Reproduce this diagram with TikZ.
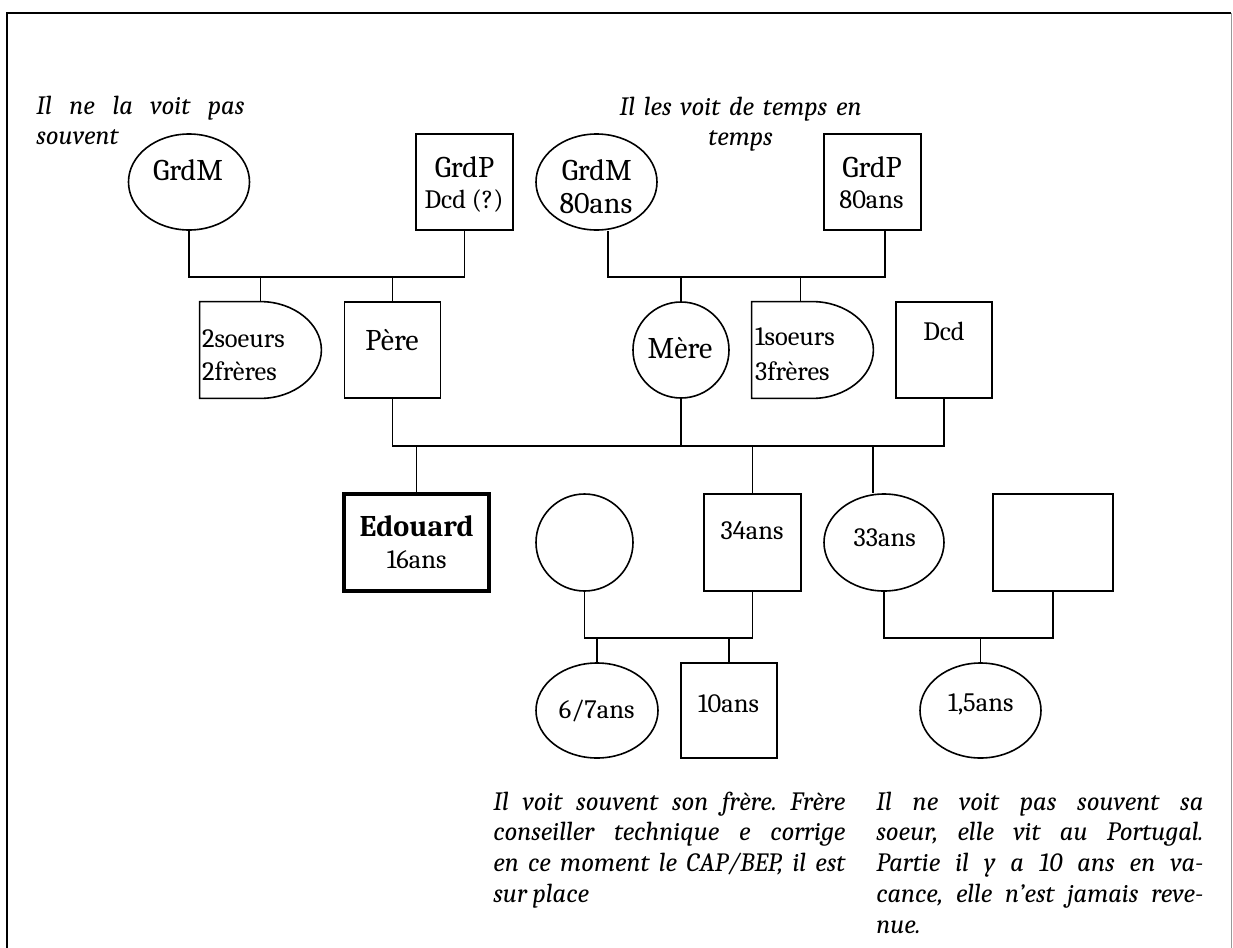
\documentclass[tikz,border=0pt]{standalone}
\usepackage{fontspec}
\IfFontExistsTF{Caladea}{\setmainfont{Caladea}}{\setmainfont{Liberation Serif}}
\usetikzlibrary{shapes.geometric,calc}
\newcommand\szA{\fontsize{15}{18}\selectfont}
\newcommand\szB{\fontsize{13.25}{16}\selectfont}
\newcommand\szC{\fontsize{13.2}{15.4}\selectfont}
\frenchspacing
\begin{document}
\begin{tikzpicture}[x=0.5pt,y=-0.5pt,
  ln/.style={line width=0.8pt},
  sq/.style={draw, ln, rectangle, inner sep=0pt},
  el/.style={draw, ln, ellipse, inner sep=0pt},
  ghost/.style={rectangle, inner sep=0pt},
  lab/.style={inner sep=0pt, anchor=base},
  labw/.style={inner sep=0pt, anchor=base west},
  note/.style={inner sep=0pt, anchor=base west, align=justify, font=\szC\itshape}]
\useasboundingbox (0,0) rectangle (1233,948);
% frame
\draw[line width=1pt] (7,948) -- (7,13) -- (1231,13);
\draw[line width=0.5pt, black!40] (1231,13) -- (1231,948);

% shapes
\node[el, minimum width=60.5pt, minimum height=48pt] (gm1) at (189,182) {};
\node[sq, minimum width=48.5pt, minimum height=48pt] (gp1) at (464.5,182) {};
\node[el, minimum width=60.5pt, minimum height=48pt] (gm2) at (596.5,182) {};
\node[sq, minimum width=48.5pt, minimum height=48pt] (gp2) at (872.5,182) {};
\node[ghost, minimum width=60.5pt, minimum height=48pt] (s1) at (260.5,350) {};
\node[sq, minimum width=48pt, minimum height=48pt] (pere) at (392.5,350) {};
\node[el, minimum width=48pt, minimum height=48pt] (mere) at (681,350) {};
\node[ghost, minimum width=60.5pt, minimum height=48pt] (s2) at (812.5,350) {};
\node[sq, minimum width=48pt, minimum height=48pt] (dcd) at (944,350) {};
\node[sq, line width=1.8pt, minimum width=72.5pt, minimum height=48.5pt] (edo) at (416.5,542.5) {};
\node[el, minimum width=48.5pt, minimum height=48.5pt] (w) at (584.5,542.5) {};
\node[sq, minimum width=48.5pt, minimum height=48.5pt] (b34) at (752.5,542.5) {};
\node[el, minimum width=60pt, minimum height=48.5pt] (s33) at (884,542.5) {};
\node[sq, minimum width=60pt, minimum height=48.5pt] (h) at (1053,542.5) {};
\node[el, minimum width=61pt, minimum height=47.5pt] (c67) at (597,710.5) {};
\node[sq, minimum width=48.25pt, minimum height=47.5pt] (c10) at (729,710.5) {};
\node[el, minimum width=60.5pt, minimum height=47.5pt] (c15) at (980.5,710.5) {};

% D shapes (siblings groups)
\draw[ln] (s1.north west) -- (s1.north) .. controls +(33.1,0) and +(0,-26.5) .. (s1.east)
  .. controls +(0,26.5) and +(33.1,0) .. (s1.south) -- (s1.south west) -- cycle;
\draw[ln] (s2.north west) -- (s2.north) .. controls +(33.1,0) and +(0,-26.5) .. (s2.east)
  .. controls +(0,26.5) and +(33.1,0) .. (s2.south) -- (s2.south west) -- cycle;

% labels
\node[lab, font=\szA] (tgm1) at (188,180) {GrdM};
\node[lab, font=\szA] (tgp1a) at (464.4,177) {GrdP};
\node[lab, font=\szB] (tgp1b) at (464,208) {Dcd (?)};
\node[lab, font=\szA] (tgm2a) at (596.7,180) {GrdM};
\node[lab, font=\szA] (tgm2b) at (596,213) {80ans};
\node[lab, font=\szA] (tgp2a) at (872,177) {GrdP};
\node[lab, font=\szB] (tgp2b) at (871.5,208) {80ans};
\node[labw, font=\szB] (ts1a) at (201.6,347) {2soeurs};
\node[labw, font=\szB] (ts1b) at (201.6,380) {2frères};
\node[lab, font=\szA] (tpere) at (392,350) {Père};
\node[lab, font=\szA] (tmere) at (680,358) {Mère};
\node[labw, font=\szB] (ts2a) at (754.7,345) {1soeurs};
\node[labw, font=\szB] (ts2b) at (754.7,380) {3frères};
\node[lab, font=\szB] (tdcd) at (944,340) {Dcd};
\node[lab, font=\szA\bfseries] (tedoa) at (416.7,536.7) {Edouard};
\node[lab, font=\szB] (tedob) at (416.7,568.3) {16ans};
\node[lab, font=\szB] (tb34) at (752,539.3) {34ans};
\node[lab, font=\szB] (ts33) at (884.7,546.7) {33ans};
\node[lab, font=\szB] (tc67) at (596.7,718) {6/7ans};
\node[lab, font=\szB] (tc10) at (728.5,712.7) {10ans};
\node[lab, font=\szB] (tc15) at (980.8,711.7) {1,5ans};

% notes
\node[note, text width=104pt] (n1) at (36,114) {Il ne la voit pas\linebreak souvent};
\node[inner sep=0pt, anchor=base, text width=150pt, align=center, font=\szC\itshape] (n2) at (740.6,115) {Il les voit de temps en\\temps};
\node[note, text width=176pt] (n3) at (493,810) {Il voit souvent son frère. Frère\linebreak conseiller technique e corrige\linebreak en ce moment le CAP/BEP, il est\linebreak sur place};
\node[note, text width=163.5pt] (n4) at (876,810) {Il ne voit pas souvent sa\linebreak soeur, elle vit au Portugal.\linebreak Partie il y a 10 ans en va-\linebreak cance, elle n’est jamais reve-\linebreak nue.};

% connectors
\coordinate (u1) at (326.5,277);
\draw[ln] (gm1.south) |- (u1) -| (gp1.south);
\draw[ln] (s1.north) -- (s1.north |- u1);
\draw[ln] (pere.north) -- (pere.north |- u1);
\coordinate (u2) at (746.5,277);
\coordinate (gm2b) at ([xshift=5.75pt]gm2.south);
\coordinate (gp2b) at ([xshift=6.25pt]gp2.south);
\draw[ln] (gm2b) |- (u2) -| (gp2b);
\draw[ln] (mere.north) -- (mere.north |- u2);
\coordinate (s2top) at ([xshift=-6pt]s2.north);
\draw[ln] (s2top) -- (s2top |- u2);
\coordinate (u3) at (668,446);
\draw[ln] (pere.south) |- (u3) -| (dcd.south);
\draw[ln] (mere.south) -- (mere.south |- u3);
\draw[ln] (edo.north) -- (edo.north |- u3);
\draw[ln] (b34.north) -- (b34.north |- u3);
\coordinate (s33top) at ([xshift=-5.5pt]s33.north);
\draw[ln] (s33top) -- (s33top |- u3);
\coordinate (u4) at (668,638);
\draw[ln] (w.south) |- (u4) -| (b34.south);
\draw[ln] (c67.north) -- (c67.north |- u4);
\draw[ln] (c10.north) -- (c10.north |- u4);
\coordinate (u5) at (969,638);
\draw[ln] (s33.south) |- (u5) -| (h.south);
\draw[ln] (c15.north) -- (c15.north |- u5);
\end{tikzpicture}
\end{document}
